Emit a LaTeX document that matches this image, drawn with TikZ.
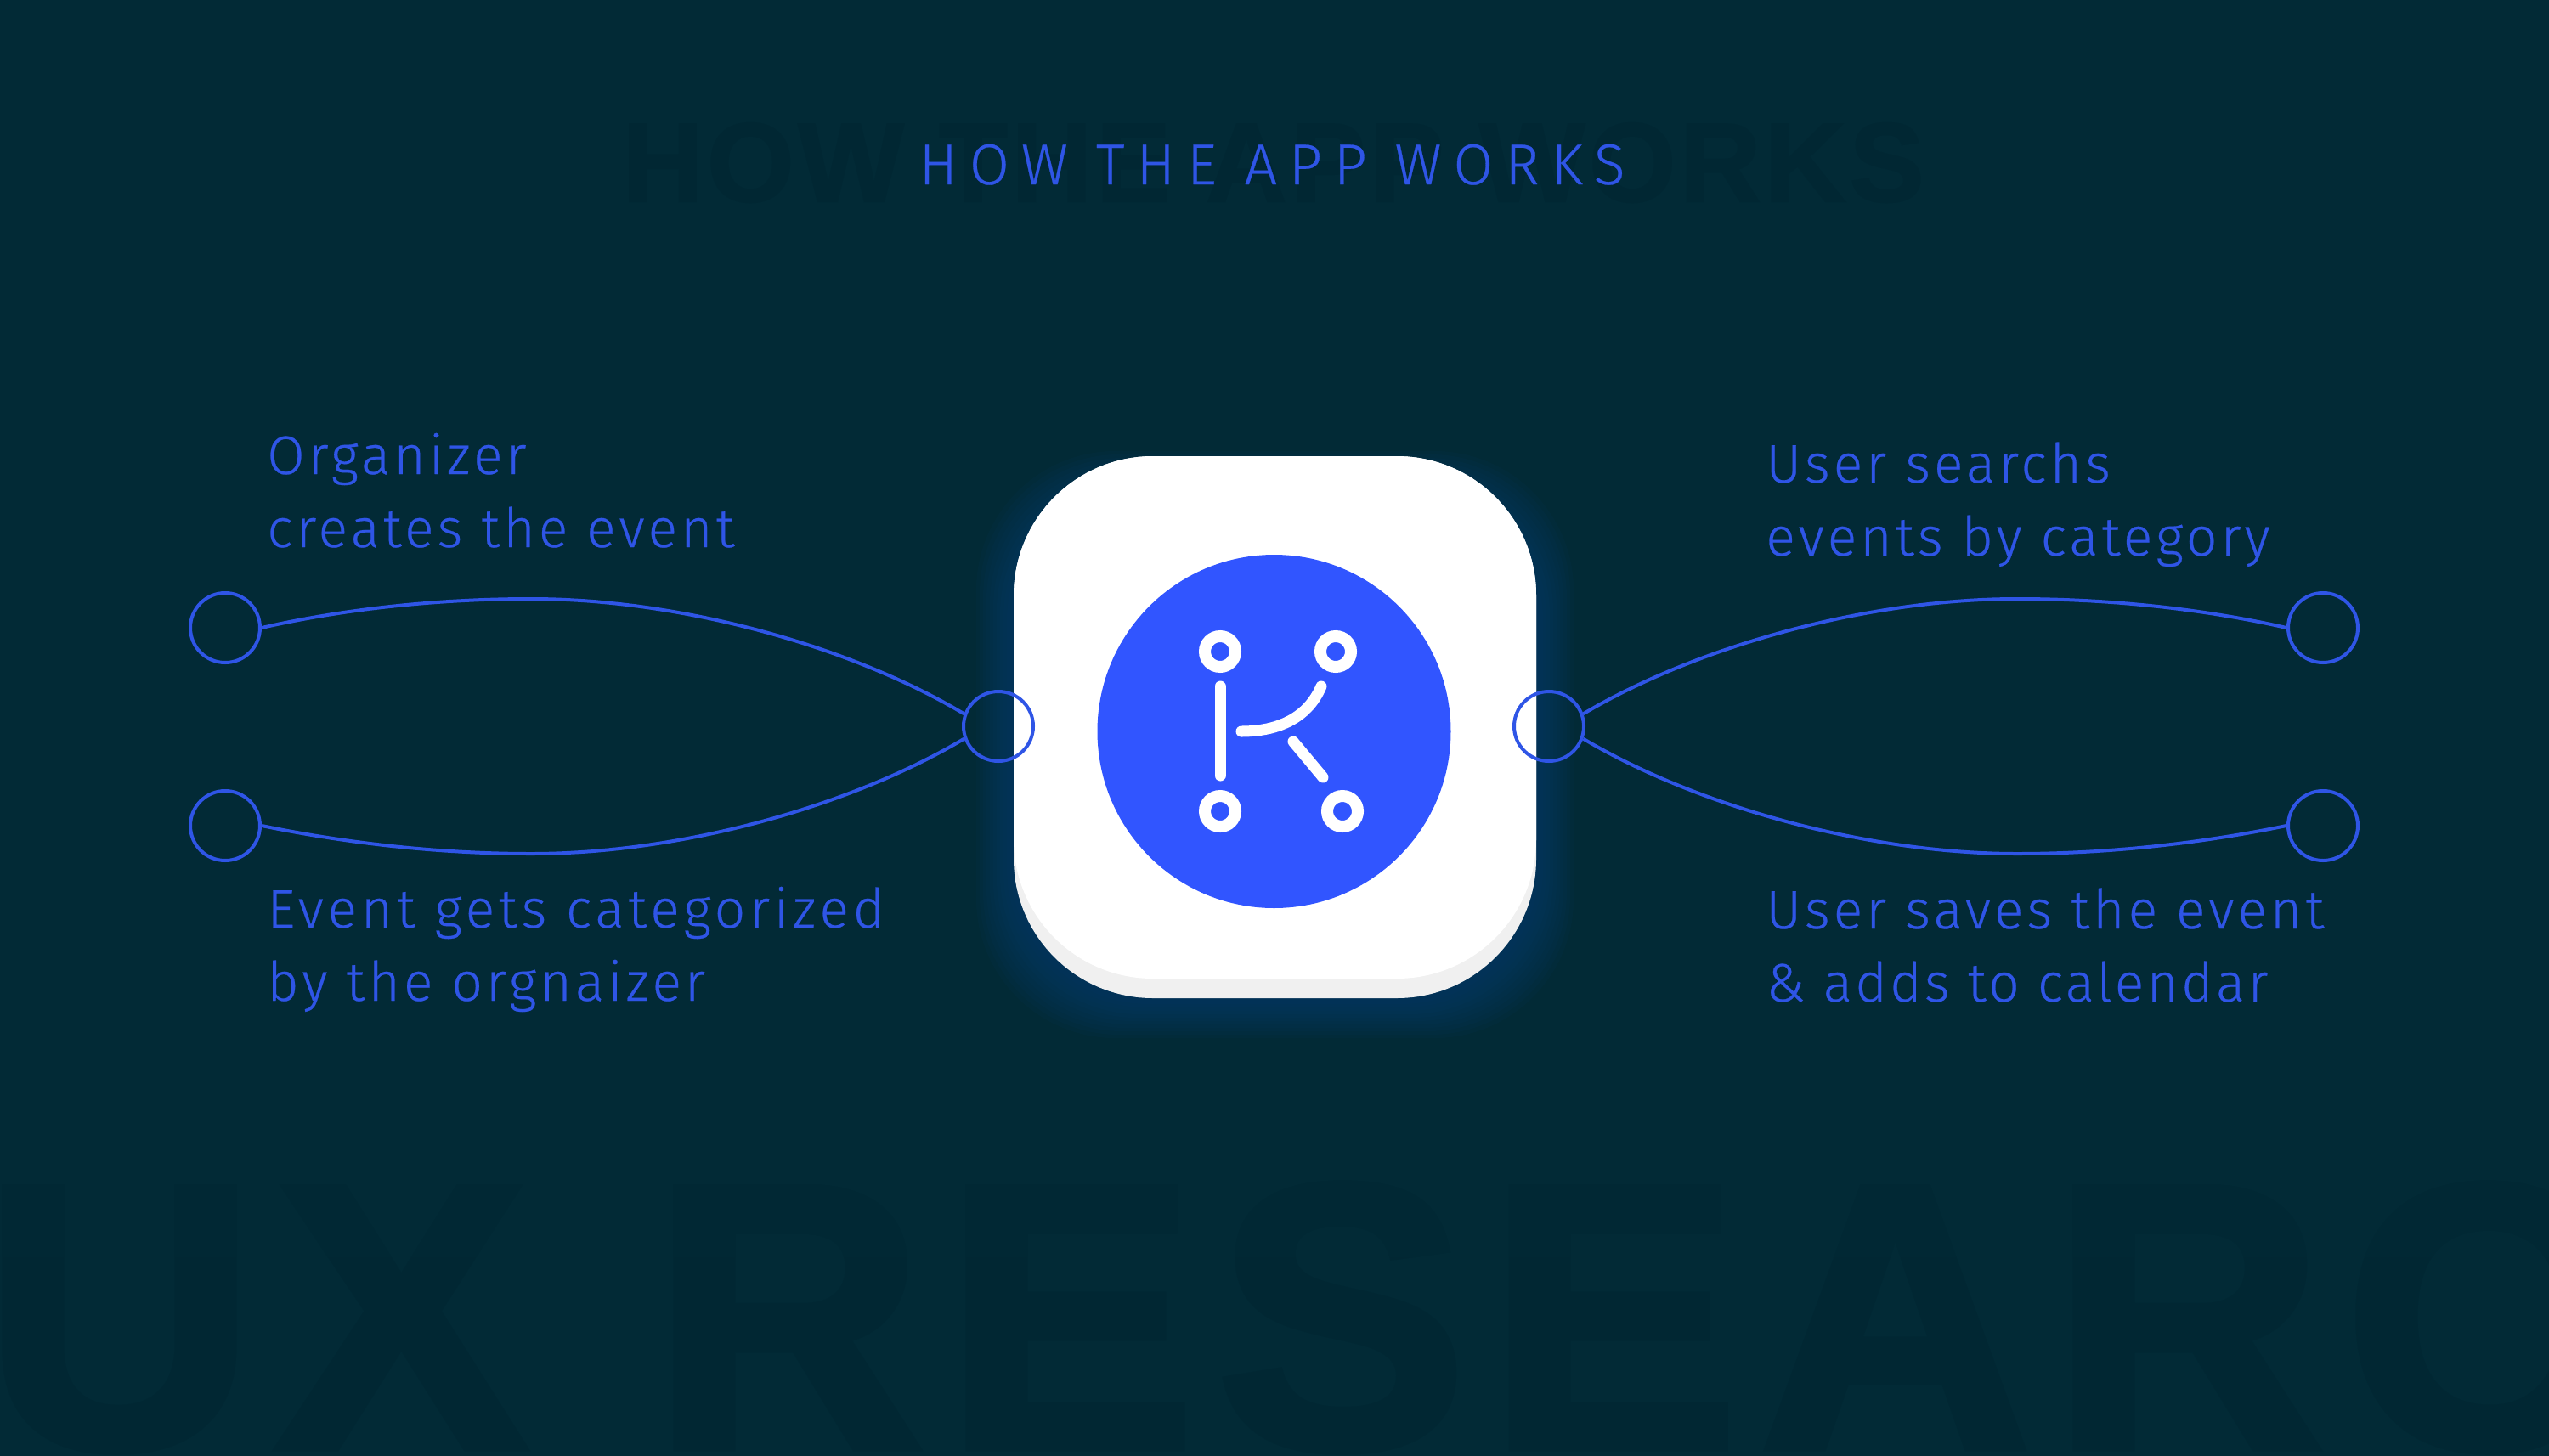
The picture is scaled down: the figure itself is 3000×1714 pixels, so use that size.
\documentclass[tikz,border=0pt]{standalone}
\usepackage{fontspec}
\setmainfont{Fira Sans}
\newfontfamily\lblfont[UprightFont={* Light},LetterSpace=6.5,FakeBold=0.4]{Fira Sans}
\newfontfamily\lblwide[UprightFont={* Light},LetterSpace=7.6,FakeBold=0.4]{Fira Sans}
\newfontfamily\lbltight[UprightFont={* Light},LetterSpace=5.2,FakeBold=0.4]{Fira Sans}
\newfontfamily\titlefont[UprightFont={* Light},LetterSpace=20.5,FakeBold=0.4]{Fira Sans}
\newfontfamily\ghostfont[UprightFont={* Bold},LetterSpace=3.4,FakeBold=1.5]{Liberation Sans}
\newfontfamily\ghostbig[UprightFont={* Bold},LetterSpace=5.3,FakeBold=2]{Liberation Sans}
\definecolor{bgc}{HTML}{022A36}
\definecolor{ghost}{HTML}{012733}
\definecolor{lineblue}{HTML}{2F55E6}
\definecolor{logoblue}{HTML}{3155FF}
\definecolor{glowc}{HTML}{07407A}
\definecolor{lipc}{HTML}{F0F0F0}
\tikzset{
  x=0.5pt,y=-0.5pt,
  hub/.style={circle,draw=lineblue,line width=2pt,minimum size=41pt,inner sep=0pt},
  link/.style={draw=lineblue,line width=2pt},
  lbl/.style={anchor=base west,inner sep=0pt,align=left,text=lineblue,font=\lblfont\fontsize{32}{43}\selectfont},
  ring/.style={circle,draw=white,line width=7pt,minimum size=18pt,inner sep=0pt},
  kline/.style={draw=white,line width=6.5pt,line cap=round},
  iconbody/.style={rectangle,rounded corners=82pt,minimum width=307.5pt,inner sep=0pt},
}
\begin{document}
\begin{tikzpicture}
\useasboundingbox (0,0) rectangle (3000,1714);
\fill[bgc] (0,0) rectangle (3000,1714);
\begin{scope}
\clip (0,0) rectangle (3000,1714);
\node[anchor=base west,inner sep=0pt,text=ghost,font=\ghostfont\fontsize{66}{66}\selectfont] (ghost1) at (732,237) {HOW THE APP WORKS};
\node[anchor=base west,inner sep=0pt,text=ghost,font=\ghostbig\fontsize{222}{222}\selectfont] (ghost2) at (-20,1704) {UX RESEARC};
\fill[bgc,opacity=0.45] (0,1380) rectangle (3000,1480);
\end{scope}
% glow
\foreach \g in {44,40,...,4}{
  \fill[glowc,opacity=0.07,rounded corners=82pt] (1193-\g,575-\g) rectangle (1808+\g,1178+\g);
}
\node[iconbody,fill=lipc,minimum height=319pt] (base) at (1500.5,856) {};
\node[iconbody,fill=white,minimum height=307.5pt] (face) at (1500.5,844.5) {};
\node[circle,fill=logoblue,minimum size=208pt,inner sep=0pt] (logo) at (1499.5,861) {};
% K mark
\node[ring] (r1) at (1436,767) {};
\node[ring] (r2) at (1572,767) {};
\node[ring] (r3) at (1436,955) {};
\node[ring] (r4) at (1580,955) {};
\coordinate (v1) at (1436,808);
\coordinate (v2) at (1436,913);
\coordinate (c1) at (1461,861);
\coordinate (c2) at (1555,808);
\coordinate (s1) at (1522,873);
\coordinate (s2) at (1557,915);
\draw[kline] (v1) -- (v2);
\draw[kline] (c1) .. controls (1500,861) and (1538,848) .. (c2);
\draw[kline] (s1) -- (s2);
% hubs
\node[hub] (hl) at (1175,855) {};
\node[hub] (hr) at (1823,855) {};
\node[hub] (o1) at (265,739) {};
\node[hub] (o2) at (265,972) {};
\node[hub] (o3) at (2734,739) {};
\node[hub] (o4) at (2734,972) {};
% links
\coordinate (p1) at (625,705);
\coordinate (p2) at (625,1005);
\coordinate (p3) at (2374,705);
\coordinate (p4) at (2374,1005);
\draw[link] (o1.0) .. controls (400,718) and (510,705) .. (p1) .. controls (800,705) and (1000,760) .. (hl.160);
\draw[link] (o2.0) .. controls (400,991) and (510,1005) .. (p2) .. controls (800,1005) and (1000,950) .. (hl.200);
\draw[link] (o3.180) .. controls (2599,718) and (2489,705) .. (p3) .. controls (2199,705) and (1999,760) .. (hr.20);
\draw[link] (o4.180) .. controls (2599,991) and (2489,1005) .. (p4) .. controls (2199,1005) and (1999,950) .. (hr.340);
% text
\node[anchor=base,inner sep=0pt,text=lineblue,font=\titlefont\fontsize{34}{34}\selectfont] (title) at (1497,217) {HOW THE APP WORKS};
\node[lbl] (t1a) at (314,558) {Organizer};
\node[lbl] (t1b) at (314,644) {creates the event};
\node[lbl] (t2a) at (314,1092) {\lblwide\fontsize{32}{43}\selectfont Event gets categorized};
\node[lbl] (t2b) at (314,1178) {by the orgnaizer};
\node[lbl] (t3a) at (2078,568) {User searchs};
\node[lbl] (t3b) at (2078,654) {events by category};
\node[lbl] (t4a) at (2078,1093) {User saves the event};
\node[lbl] (t4b) at (2078,1179) {\lbltight\fontsize{32}{43}\selectfont \& adds to calendar};
\end{tikzpicture}
\end{document}
